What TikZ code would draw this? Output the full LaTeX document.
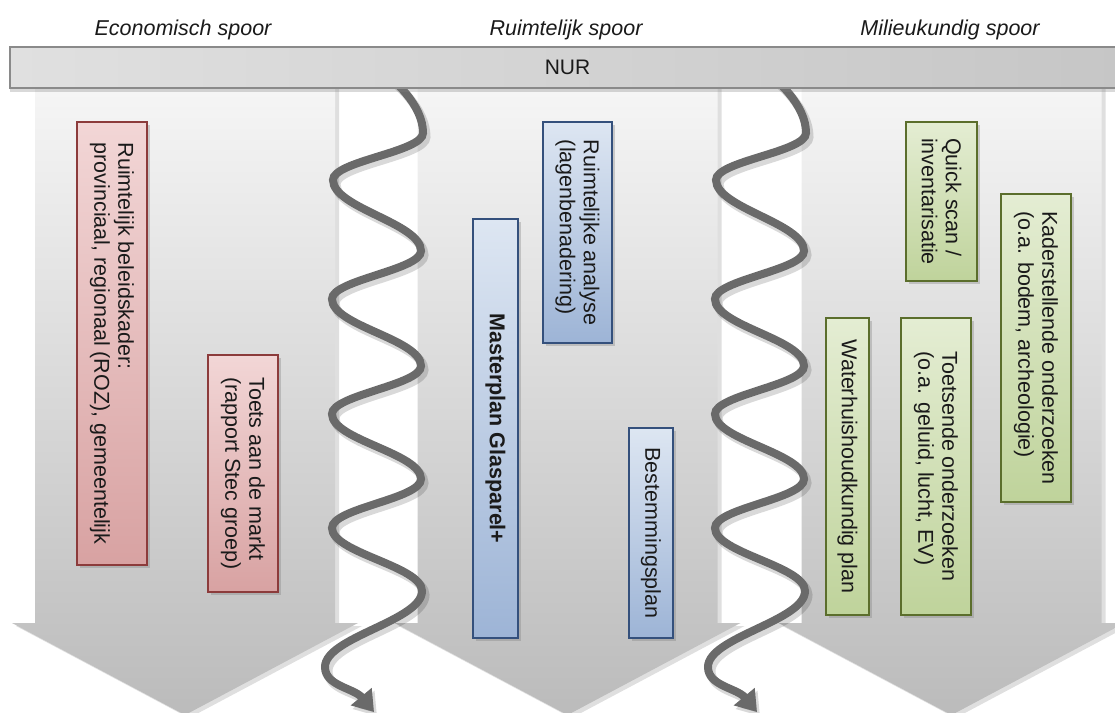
\documentclass[tikz,border=0pt]{standalone}
\usepackage{fontspec}
\setmainfont{Liberation Sans}
\usetikzlibrary{shadows,arrows.meta}
\definecolor{redline}{HTML}{8C3B3B}
\definecolor{redtop}{HTML}{F2D6D6}
\definecolor{redbot}{HTML}{D8A2A2}
\definecolor{blueline}{HTML}{34507C}
\definecolor{bluetop}{HTML}{DDE6F2}
\definecolor{bluebot}{HTML}{9DB4D6}
\definecolor{greenline}{HTML}{5B6E2C}
\definecolor{greentop}{HTML}{E4EDD3}
\definecolor{greenbot}{HTML}{BFD39B}
\definecolor{arrowtop}{HTML}{F6F6F6}
\definecolor{arrowbot}{HTML}{BBBBBB}
\definecolor{barleft}{HTML}{E0E0E0}
\definecolor{barright}{HTML}{C6C6C6}
\definecolor{barline}{HTML}{8A8A8A}
\definecolor{spiralc}{HTML}{6A6A6A}
\definecolor{txt}{HTML}{1A1A1A}
\newcommand\mySpiralPath{(372,62) .. controls (395,80) and (423,105) .. (423,133)
 .. controls (423,152) and (333,161) .. (333,180)
 .. controls (333,208) and (421,223) .. (421,251)
 .. controls (421,270) and (332,280) .. (332,299)
 .. controls (332,326) and (421,339) .. (421,366)
 .. controls (421,385) and (332,395) .. (332,414)
 .. controls (332,440) and (421,453) .. (421,479)
 .. controls (421,499) and (332,508) .. (332,528)
 .. controls (332,553) and (422,566) .. (422,591)
 .. controls (422,621) and (325,637) .. (325,667)
 .. controls (325,686) and (354,688) .. (374,712)}
\tikzset{
  bigarrow/.style={top color=arrowtop, bottom color=arrowbot,
    drop shadow={shadow xshift=4pt, shadow yshift=-3pt, opacity=0.25}},
  boxbase/.style={line width=1.6pt, inner sep=0pt,
    drop shadow={shadow xshift=3pt, shadow yshift=-3pt, opacity=0.35}},
  redbox/.style={boxbase, draw=redline, top color=redtop, bottom color=redbot},
  bluebox/.style={boxbase, draw=blueline, top color=bluetop, bottom color=bluebot},
  greenbox/.style={boxbase, draw=greenline, top color=greentop, bottom color=greenbot},
  boxtext/.style={rotate=-90, align=left, inner sep=0pt, text=txt,
    font=\fontsize{21.5}{24}\selectfont},
  title/.style={font=\fontsize{21.5}{24}\selectfont\itshape, text=txt},
  bar/.style={draw=barline, line width=1.2pt, left color=barleft, right color=barright,
    minimum width=1115pt, minimum height=41pt, inner sep=0pt, text=txt,
    font=\fontsize{21}{24}\selectfont,
    drop shadow={shadow xshift=0pt, shadow yshift=-4pt, opacity=0.3}},
  spiral/.style={draw=spiralc, line width=8pt, -{Triangle[width=26pt,length=20pt]}},
  spiralshadow/.style={draw=black, opacity=0.15, line width=9pt, -{Triangle[width=27pt,length=21pt]}}
}
\begin{document}
\begin{tikzpicture}[x=1pt,y=-1pt]
\useasboundingbox (0,0) rectangle (1115,712);
\clip (0,0) rectangle (1115,712);
% big down arrows
\path[bigarrow] (35,80) -- (335,80) -- (335,623) -- (358,623) -- (185,715) -- (12,623) -- (35,623) -- cycle;
\path[bigarrow] (417.5,80) -- (717.5,80) -- (717.5,623) -- (740.5,623) -- (567.5,715) -- (394.5,623) -- (417.5,623) -- cycle;
\path[bigarrow] (801.5,80) -- (1101.5,80) -- (1101.5,623) -- (1124.5,623) -- (951.5,715) -- (778.5,623) -- (801.5,623) -- cycle;
% boxes
\node[redbox, minimum width=70pt, minimum height=443pt] (b1) at (112,343.5) {};
\node[boxtext] (t1) at (b1.center) {Ruimtelijk beleidskader:\\provinciaal, regionaal (ROZ), gemeentelijk};
\node[redbox, minimum width=70pt, minimum height=237pt] (b2) at (243,473.5) {};
\node[boxtext] (t2) at (b2.center) {Toets aan de markt\\(rapport Stec groep)};
\node[bluebox, minimum width=69pt, minimum height=221pt] (b3) at (577.5,232.5) {};
\node[boxtext] (t3) at (b3.center) {Ruimtelijke analyse\\(lagenbenadering)};
\node[bluebox, minimum width=45pt, minimum height=419pt] (b4) at (495.5,428.5) {};
\node[boxtext, font=\fontsize{21.5}{24}\selectfont\bfseries] (t4) at (b4.center) {Masterplan Glasparel+};
\node[bluebox, minimum width=44pt, minimum height=210pt] (b5) at (651,533) {};
\node[boxtext] (t5) at (b5.center) {Bestemmingsplan};
\node[greenbox, minimum width=71pt, minimum height=159pt] (b6) at (941.5,201.5) {};
\node[boxtext] (t6) at (b6.center) {Quick scan /\\inventarisatie};
\node[greenbox, minimum width=70pt, minimum height=308pt] (b7) at (1036,348) {};
\node[boxtext] (t7) at (b7.center) {Kaderstellende onderzoeken\\(o.a. bodem, archeologie)};
\node[greenbox, minimum width=43pt, minimum height=297pt] (b8) at (847.5,466.5) {};
\node[boxtext] (t8) at (b8.center) {Waterhuishoudkundig plan};
\node[greenbox, minimum width=70pt, minimum height=297pt] (b9) at (936,466.5) {};
\node[boxtext] (t9) at (b9.center) {Toetsende onderzoeken\\(o.a. geluid, lucht, EV)};
% spirals
\begin{scope}[shift={(3,4)}]
  \draw[spiralshadow] \mySpiralPath;
\end{scope}
\draw[spiral] \mySpiralPath;
\begin{scope}[shift={(386,4)}]
  \draw[spiralshadow] \mySpiralPath;
\end{scope}
\begin{scope}[shift={(383,0)}]
  \draw[spiral] \mySpiralPath;
\end{scope}
% bar
\node[bar] (nur) at (567.5,67.5) {NUR};
% titles
\node[title] (teco) at (183,30) {Economisch spoor};
\node[title] (truim) at (566,30) {Ruimtelijk spoor};
\node[title] (tmil) at (950,30) {Milieukundig spoor};
\end{tikzpicture}
\end{document}
